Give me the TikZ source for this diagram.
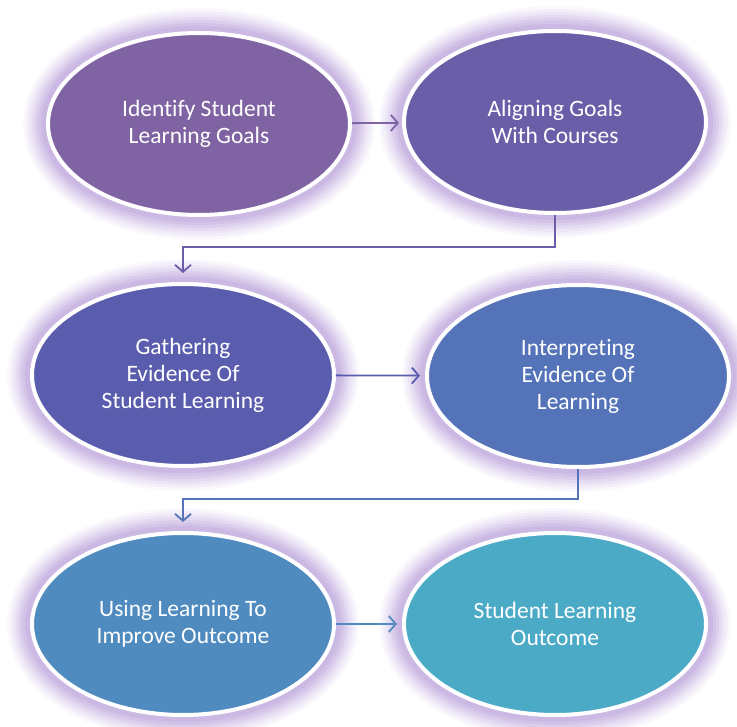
\documentclass[tikz,border=0pt]{standalone}
\usepackage{fontspec}
\setmainfont[Ligatures=NoCommon]{Carlito}
\usetikzlibrary{arrows.meta,shapes.geometric}

\definecolor{glowc}{HTML}{BFA8DD}
\definecolor{identc}{HTML}{7F63A2}
\definecolor{alignc}{HTML}{6B5EA8}
\definecolor{gatherc}{HTML}{5A5DAE}
\definecolor{interpc}{HTML}{5473B8}
\definecolor{usingc}{HTML}{4F8BBF}
\definecolor{outcomec}{HTML}{4BABC6}

\begin{document}
\begin{tikzpicture}[x=1pt, y=-1pt, ->,>={Straight Barb[length=7pt,width=16pt]}, line width=1.8pt]
  \tikzstyle{every stage}=[ellipse, draw=white, line width=4pt, minimum width=302pt, minimum height=182pt,
    text=white, align=center, font=\fontsize{23.5}{27}\selectfont,
    preaction={draw=glowc, line width=50pt, opacity=0.08},
    preaction={draw=glowc, line width=44pt, opacity=0.11},
    preaction={draw=glowc, line width=38pt, opacity=0.14},
    preaction={draw=glowc, line width=32pt, opacity=0.18},
    preaction={draw=glowc, line width=26pt, opacity=0.24},
    preaction={draw=glowc, line width=20pt, opacity=0.3},
    preaction={draw=glowc, line width=14pt, opacity=0.4}]
  \useasboundingbox (0,0) rectangle (737,727);

  \node[every stage, fill=identc]   (A) at (199,124) {Identify Student\\Learning Goals};
  \node[every stage, fill=alignc]   (B) at (555,122) {Aligning Goals\\With Courses};
  \node[every stage, fill=gatherc]  (C) at (183,375) {Gathering\\Evidence Of\\Student Learning};
  \node[every stage, fill=interpc]  (D) at (578,376) {Interpreting\\Evidence Of\\Learning};
  \node[every stage, fill=usingc]   (E) at (183,624) {Using Learning To\\Improve Outcome};
  \node[every stage, fill=outcomec] (F) at (555,624) {Student Learning\\Outcome};

  \draw[identc, shorten >=3pt] (A) -- (B);
  \draw[alignc, shorten >=9pt] (B.south) -- ++(0,32) -| (C.north);
  \draw[gatherc, shorten >=5pt] (C) -- (D);
  \draw[interpc, shorten >=9pt] (D.south) -- ++(0,30) -| (E.north);
  \draw[usingc, shorten >=5pt] (E) -- (F);
\end{tikzpicture}
\end{document}
